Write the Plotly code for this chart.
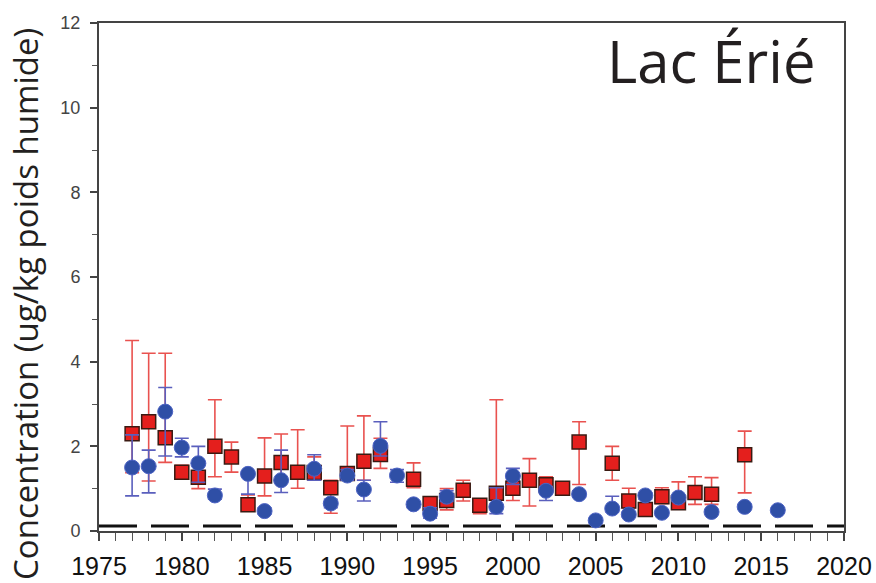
import plotly.graph_objects as go

# Red squares: yearly value with upper/lower bounds
red_years = [1977, 1978, 1979, 1980, 1981, 1982, 1983, 1984, 1985, 1986, 1987, 1988,
             1989, 1990, 1991, 1992, 1994, 1995, 1996, 1997, 1998, 1999, 2000, 2001,
             2002, 2003, 2004, 2006, 2007, 2008, 2009, 2010, 2011, 2012, 2014]
red_vals = [2.30, 2.58, 2.20, 1.39, 1.27, 2.00, 1.75, 0.62, 1.30, 1.62, 1.39, 1.38,
            1.02, 1.36, 1.65, 1.81, 1.22, 0.65, 0.72, 0.96, 0.61, 0.89, 1.01, 1.20,
            1.09, 1.01, 2.10, 1.60, 0.71, 0.51, 0.81, 0.67, 0.91, 0.87, 1.80]
red_hi = [4.50, 4.20, 4.20, 1.55, 1.40, 3.10, 2.10, 0.85, 2.20, 2.29, 2.39, 1.75,
          1.20, 2.48, 2.72, 2.19, 1.61, 0.81, 1.00, 1.20, 0.75, 3.10, 1.20, 1.71,
          1.28, 1.05, 2.58, 2.00, 1.01, 0.60, 1.02, 1.16, 1.28, 1.26, 2.36]
red_lo = [1.38, 1.18, 1.62, 1.26, 1.00, 1.28, 1.39, 0.52, 0.83, 1.20, 1.01, 1.20,
          0.42, 1.20, 1.20, 1.48, 1.02, 0.40, 0.50, 0.71, 0.41, 0.60, 0.72, 0.59,
          0.90, 0.95, 1.10, 1.20, 0.55, 0.45, 0.65, 0.60, 0.63, 0.63, 0.90]

# Blue circles: yearly value with upper/lower bounds
blue_years = [1977, 1978, 1979, 1980, 1981, 1982, 1984, 1985, 1986, 1988, 1989, 1990,
              1991, 1992, 1993, 1994, 1995, 1996, 1999, 2000, 2002, 2004, 2005, 2006,
              2007, 2008, 2009, 2010, 2012, 2014, 2016]
blue_vals = [1.50, 1.53, 2.82, 1.97, 1.60, 0.84, 1.35, 0.47, 1.20, 1.47, 0.65, 1.31,
             0.98, 2.01, 1.31, 0.63, 0.41, 0.81, 0.57, 1.30, 0.95, 0.87, 0.25, 0.53,
             0.39, 0.84, 0.43, 0.79, 0.45, 0.57, 0.49]
blue_hi = [2.27, 1.91, 3.39, 2.19, 2.00, 0.99, 1.40, 0.55, 1.91, 1.80, 0.75, 1.45,
           1.20, 2.58, 1.45, 0.70, 0.55, 0.95, 1.02, 1.48, 1.05, 0.95, 0.30, 0.82,
           0.45, 0.90, 0.50, 0.85, 0.50, 0.62, 0.55]
blue_lo = [0.83, 0.90, 1.77, 1.75, 1.15, 0.75, 0.87, 0.40, 0.91, 1.20, 0.55, 1.20,
           0.71, 1.77, 1.15, 0.55, 0.30, 0.70, 0.41, 1.10, 0.72, 0.80, 0.20, 0.45,
           0.33, 0.75, 0.38, 0.70, 0.40, 0.52, 0.43]

# Horizontal dashed reference level
ref_x = [1975, 2020]
ref_level = [0.12, 0.12]

x_ticks = [1975, 1980, 1985, 1990, 1995, 2000, 2005, 2010, 2015, 2020]
y_ticks = [0, 2, 4, 6, 8, 10, 12]


def err(vals, hi, lo):
    up = [h - v for v, h in zip(vals, hi)]
    down = [v - l for v, l in zip(vals, lo)]
    return up, down


red_up, red_down = err(red_vals, red_hi, red_lo)
blue_up, blue_down = err(blue_vals, blue_hi, blue_lo)

fig = go.Figure()

fig.add_trace(go.Scatter(
    x=ref_x, y=ref_level, mode="lines",
    line=dict(color="#111111", width=3, dash="38px,14px"),
    hoverinfo="skip", showlegend=False,
))

fig.add_trace(go.Scatter(
    x=red_years, y=red_vals, mode="markers",
    marker=dict(symbol="square", size=14, color="#e41f1d",
                line=dict(color="#3a1a12", width=1.5)),
    error_y=dict(type="data", symmetric=False, array=red_up, arrayminus=red_down,
                 color="#e9524f", thickness=1.6, width=7),
    showlegend=False,
))

fig.add_trace(go.Scatter(
    x=blue_years, y=blue_vals, mode="markers",
    marker=dict(symbol="circle", size=15, color="#2f4fa6",
                line=dict(color="#4d63c4", width=1)),
    error_y=dict(type="data", symmetric=False, array=blue_up, arrayminus=blue_down,
                 color="#5a5fbd", thickness=1.6, width=7),
    showlegend=False,
))

fig.add_annotation(
    text="Lac Érié", xref="paper", yref="paper", x=0.965, y=0.985,
    xanchor="right", yanchor="top", yshift=12, showarrow=False,
    font=dict(family="Open Sans", size=58, color="#231f20"),
)

fig.add_annotation(
    text="Concentration (ug/kg poids humide)", xref="paper", yref="paper",
    x=0, y=0.5, xanchor="center", yanchor="middle", xshift=-74, yshift=-27,
    textangle=-90, showarrow=False,
    font=dict(family="Open Sans", size=33, color="#231f20"),
)

fig.update_layout(
    width=876, height=583,
    margin=dict(l=99, r=32, t=23, b=52),
    paper_bgcolor="white", plot_bgcolor="white",
    font=dict(family="Liberation Sans, Arial", color="#222222"),
)

fig.update_xaxes(
    range=[1975, 2020], tickvals=x_ticks, showgrid=False, zeroline=False,
    showline=True, linecolor="#444444", linewidth=2, mirror=True,
    ticks="outside", ticklen=8, tickwidth=1.5, tickcolor="#444444",
    minor=dict(dtick=1, ticks="outside", ticklen=8, tickwidth=1, tickcolor="#555555"),
    tickfont=dict(size=25, color="#111111"), ticklabelstandoff=4,
    automargin=False,
)

fig.update_yaxes(
    range=[0, 12], tickvals=y_ticks, showgrid=False, zeroline=False,
    showline=True, linecolor="#444444", linewidth=2, mirror=True,
    ticks="outside", ticklen=7, tickwidth=1.5, tickcolor="#444444",
    minor=dict(dtick=1, ticks="outside", ticklen=5, tickwidth=1, tickcolor="#555555"),
    tickfont=dict(size=18, color="#444444"), ticklabelstandoff=6,
    automargin=False,
)

fig.write_html("out.html")
